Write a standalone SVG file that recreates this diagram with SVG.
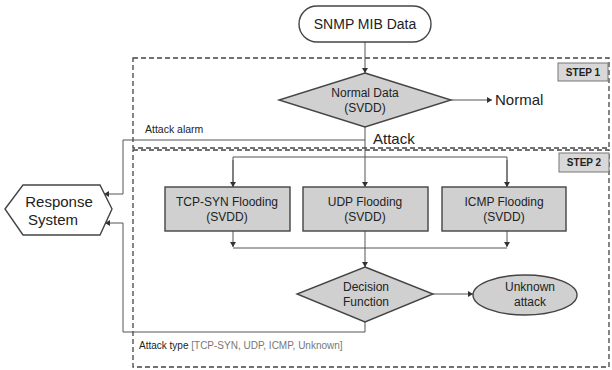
<svg xmlns="http://www.w3.org/2000/svg" width="612" height="370" viewBox="0 0 612 370">
<style>
text{font-family:"Liberation Sans",Arial,sans-serif;fill:#222;}
.node{fill:#d0d0d0;stroke:#444;stroke-width:1.4;}
.term{fill:#fff;stroke:#444;stroke-width:1.4;}
.dash{fill:none;stroke:#444;stroke-width:1.3;stroke-dasharray:5 3;}
.step{fill:#d8d8d8;stroke:#777;stroke-width:1;}
.steptxt{font-size:10px;font-weight:bold;}
.c{fill:none;stroke:#555;stroke-width:1;}
.a{marker-end:url(#ah);}
.t12{font-size:12px;text-anchor:middle;}
</style>
<defs>
<marker id="ah" markerWidth="6" markerHeight="6" refX="5" refY="3" orient="auto" markerUnits="userSpaceOnUse">
<path d="M0,0 L5,3 L0,6 Z" fill="#333"/>
</marker>
</defs>

<g id="step1-frame">
<rect class="dash" x="133" y="58" width="476" height="90"/>
<rect class="step" x="558" y="63" width="50" height="18"/>
<text class="steptxt" x="583" y="76" text-anchor="middle">STEP 1</text>
</g>
<g id="step2-frame">
<rect class="dash" x="133" y="150" width="476" height="217"/>
<rect class="step" x="559" y="153" width="50" height="19"/>
<text class="steptxt" x="584" y="166" text-anchor="middle">STEP 2</text>
</g>

<g id="connectors">
<line class="c a" x1="365" y1="42" x2="365" y2="73"/>
<line class="c a" x1="451" y1="100" x2="492" y2="100"/>
<line class="c a" x1="365" y1="127" x2="365" y2="187"/>
<polyline class="c" points="233,187 233,157 507,157 507,187"/>
<line class="c a" x1="233" y1="160" x2="233" y2="187"/>
<line class="c a" x1="507" y1="160" x2="507" y2="187"/>
<polyline class="c a" points="365,140 123,140 123,194 104,194"/>
<line class="c a" x1="233" y1="231" x2="233" y2="247"/>
<line class="c a" x1="507" y1="231" x2="507" y2="247"/>
<line class="c" x1="233" y1="248" x2="507" y2="248"/>
<line class="c a" x1="365" y1="231" x2="365" y2="267"/>
<line class="c a" x1="433" y1="294" x2="473" y2="294"/>
<polyline class="c a" points="365,322 365,332 123,332 123,223 105,223"/>
</g>

<g id="snmp">
<rect class="term" x="299" y="6" width="132" height="36" rx="18"/>
<text x="365" y="29" font-size="14" text-anchor="middle">SNMP MIB Data</text>
</g>

<g id="normal-data">
<polygon class="node" points="365,73 451,100 365,127 279,100"/>
<text class="t12" x="365" y="97">Normal Data</text>
<text class="t12" x="365" y="112">(SVDD)</text>
</g>

<g id="normal-label">
<text x="495" y="105" font-size="15">Normal</text>
</g>

<g id="attack-label">
<text x="373" y="144" font-size="15">Attack</text>
</g>

<g id="attack-alarm-label">
<text x="145" y="133" font-size="10.5">Attack alarm</text>
</g>

<g id="response">
<polygon class="term" points="5,209 23,185 100,185 112,209 100,235 23,235"/>
<text x="59" y="207" font-size="15" text-anchor="middle">Response</text>
<text x="53" y="225" font-size="15" text-anchor="middle">System</text>
</g>

<g id="tcp">
<rect class="node" x="165" y="187" width="125" height="44"/>
<text class="t12" x="227" y="206">TCP-SYN Flooding</text>
<text class="t12" x="227" y="221">(SVDD)</text>
</g>

<g id="udp">
<rect class="node" x="303" y="187" width="125" height="44"/>
<text class="t12" x="365" y="206">UDP Flooding</text>
<text class="t12" x="365" y="221">(SVDD)</text>
</g>

<g id="icmp">
<rect class="node" x="442" y="187" width="124" height="44"/>
<text class="t12" x="504" y="206">ICMP Flooding</text>
<text class="t12" x="504" y="221">(SVDD)</text>
</g>

<g id="decision">
<polygon class="node" points="365,267 433,294 365,322 297,294"/>
<text class="t12" x="366" y="291">Decision</text>
<text class="t12" x="366" y="306">Function</text>
</g>

<g id="unknown">
<ellipse class="node" cx="525" cy="295" rx="52" ry="20"/>
<text class="t12" x="530" y="291">Unknown</text>
<text class="t12" x="530" y="306">attack</text>
</g>

<g id="attack-type-label">
<text x="139" y="349" font-size="10">Attack type <tspan fill="#777">[TCP-SYN, UDP, ICMP, Unknown]</tspan></text>
</g>
</svg>
